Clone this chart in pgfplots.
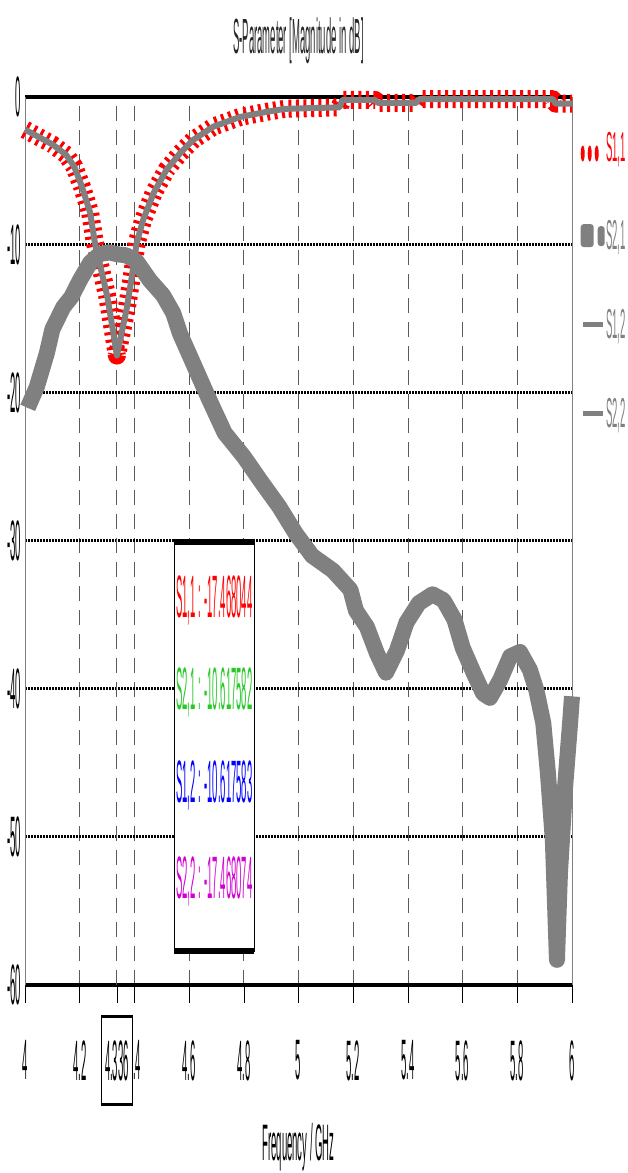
\documentclass[border=0pt]{standalone}
\usepackage{pgfplots}
\pgfplotsset{compat=1.18}
\usepackage{graphicx}
\usepackage{fontspec}
\setmainfont{Liberation Sans}
\definecolor{cgray}{RGB}{128,128,128}
\definecolor{cgrid}{RGB}{90,90,90}
\definecolor{cgreen}{RGB}{40,200,40}
\definecolor{cmag}{RGB}{210,0,210}
\newcommand{\st}[2][6]{\scalebox{1}[#1]{#2}}
\newcommand{\fourbox}{\vbox{\hrule height 3pt\kern 22pt\hbox{\kern4pt\st{4.336}\kern4pt}\kern 22pt\hrule height 3pt}}

\pgfplotstableread{
x y
4.000 -2.2
4.050 -2.7
4.100 -3.2
4.150 -3.9
4.180 -4.7
4.207 -6.0
4.238 -7.8
4.256 -9.9
4.280 -11.8
4.300 -13.4
4.320 -15.6
4.336 -17.47
4.355 -15.8
4.372 -14.3
4.390 -12.2
4.408 -9.9
4.432 -8.3
4.470 -6.5
4.518 -4.9
4.567 -3.8
4.615 -2.9
4.689 -2.0
4.786 -1.35
4.884 -1.0
4.950 -0.8
5.150 -0.7
5.160 -0.2
5.280 -0.2
5.290 -0.4
5.430 -0.4
5.440 -0.15
5.930 -0.15
5.940 -0.45
6.000 -0.45
}\sOneOne

\pgfplotstableread{
x y
4.010 -21.0
4.043 -19.6
4.080 -17.3
4.100 -15.7
4.140 -14.2
4.170 -13.5
4.200 -12.4
4.238 -11.2
4.274 -10.6
4.310 -10.5
4.336 -10.62
4.370 -10.7
4.408 -11.1
4.457 -12.4
4.505 -13.4
4.542 -14.6
4.567 -16.0
4.615 -18.0
4.670 -20.3
4.730 -22.7
4.800 -24.3
4.860 -25.9
4.930 -27.7
4.990 -29.5
5.050 -31.0
5.126 -32.0
5.190 -33.3
5.210 -34.7
5.250 -35.8
5.287 -37.6
5.320 -38.9
5.360 -37.4
5.395 -35.5
5.440 -34.2
5.490 -33.6
5.530 -34.0
5.570 -35.3
5.600 -37.2
5.640 -38.9
5.675 -40.3
5.700 -40.6
5.737 -39.4
5.774 -37.8
5.810 -37.5
5.846 -38.7
5.870 -40.1
5.895 -42.3
5.912 -45.7
5.930 -50.2
5.945 -58.3
5.956 -52.4
5.974 -46.8
5.993 -42.3
6.000 -40.5
}\sTwoOne

\begin{document}
\fontsize{9.5}{11}\selectfont
\begin{tikzpicture}
\useasboundingbox (0,0) rectangle (627pt,1173pt);
\begin{axis}[
  at={(25pt,188pt)}, anchor=south west,
  scale only axis, width=547pt, height=888pt,
  xmin=4, xmax=6, ymin=-60, ymax=0,
  clip=false,
  separate axis lines,
  x axis line style={black, line width=4pt},
  y axis line style={cgray, line width=1pt},
  xtick={4,4.2,4.4,4.6,4.8,5,5.2,5.4,5.6,5.8,6},
  xticklabels={\st{4},\st{4.2},\st{4.4},\st{4.6},\st{4.8},\st{5},\st{5.2},\st{5.4},\st{5.6},\st{5.8},\st{6}},
  ytick={0,-10,-20,-30,-40,-50,-60},
  yticklabels={\st{0},\st{-10},\st{-20},\st{-30},\st{-40},\st{-50},\st{-60}},
  xtick pos=bottom, ytick pos=left,
  tick align=outside,
  major tick length=18pt,
  xtick style={black, line width=0.6pt},
  ytick style={draw=none},
  xticklabel style={inner sep=0pt, anchor=north, yshift=-37pt},
  yticklabel style={inner sep=0pt, anchor=east, xshift=14pt},
  xmajorgrids, ymajorgrids,
  x grid style={cgrid, line width=0.8pt, dash pattern=on 15pt off 9pt},
  y grid style={black, line width=3pt, dash pattern=on 1.5pt off 1.5pt},
  extra x ticks={4.336},
  extra x tick labels={\fourbox},
  extra x tick style={
    grid=major,
    major grid style={black, solid, line width=0.8pt},
    xticklabel style={fill=white, draw=black, line width=0.8pt,
      inner sep=0pt, yshift=25pt},
  },
  title={\st[5.2]{S-Parameter [Magnitude in dB]}},
  title style={at={(0.5,1)}, anchor=south, inner sep=0pt, yshift=27pt, text=black!85},
  xlabel={\st[5.4]{Frequency / GHz}},
  xlabel style={at={(axis description cs:0.5,0)}, anchor=north, inner sep=0pt, yshift=-138pt},
  legend style={at={(1,1)}, anchor=north west, xshift=8pt, yshift=-35pt,
    draw=none, fill=none, inner sep=0pt, row sep=58pt, column sep=1pt,
    nodes={inner sep=0pt}},
  legend cell align=left,
]
\addplot[red, line width=18pt, line join=round, dash pattern=on 3pt off 4.5pt,
  legend image code/.code={
    \fill[red, draw=none] (2pt,-6pt) ellipse (2pt and 8pt);
    \fill[red, draw=none] (9pt,-6pt) ellipse (2pt and 8pt);
    \fill[red, draw=none] (16pt,-6pt) ellipse (2pt and 8pt);}
  ] table {\sOneOne};
\addlegendentry{\textcolor{red}{\st[4.4]{S1,1}}}

\addplot[cgray, line width=16pt, line join=round,
  legend image code/.code={
    \fill[cgray, draw=none, rounded corners=3pt] (0pt,-11pt) rectangle (13pt,12pt);
    \fill[cgray, draw=none, rounded corners=3pt] (17pt,-10pt) rectangle (24pt,10pt);}
  ] table {\sTwoOne};
\addlegendentry{\textcolor{cgray}{\st[4.4]{S2,1}}}

\addplot[cgray, line width=3pt, line join=round,
  legend image code/.code={\draw[cgray, line width=5pt] (2pt,0pt) -- (22pt,0pt);}
  ] table {\sTwoOne};
\addlegendentry{\textcolor{cgray}{\st[4.4]{S1,2}}}

\addplot[cgray, line width=6pt, line join=round,
  legend image code/.code={\draw[cgray, line width=5pt] (2pt,0pt) -- (22pt,0pt);}
  ] table {\sOneOne};
\addlegendentry{\textcolor{cgray}{\st[4.4]{S2,2}}}

% marker box
\fill[white] (axis cs:4.545,-30) rectangle (axis cs:4.838,-57.8);
\draw[black, line width=1pt] (axis cs:4.545,-30) -- (axis cs:4.545,-57.8);
\draw[black, line width=1pt] (axis cs:4.838,-30) -- (axis cs:4.838,-57.8);
\draw[black, line width=6pt] (axis cs:4.545,-30.1) -- (axis cs:4.838,-30.1);
\draw[black, line width=6pt] (axis cs:4.545,-57.7) -- (axis cs:4.838,-57.7);
\node[inner sep=0pt] at (axis cs:4.692,-34.0) {\textcolor{red}{\st[6.3]{S1,1 : -17.468044}}};
\node[inner sep=0pt] at (axis cs:4.692,-40.2) {\textcolor{cgreen}{\st[6.3]{S2,1 : -10.617582}}};
\node[inner sep=0pt] at (axis cs:4.692,-46.5) {\textcolor{blue}{\st[6.3]{S1,2 : -10.617583}}};
\node[inner sep=0pt] at (axis cs:4.692,-53.0) {\textcolor{cmag}{\st[6.3]{S2,2 : -17.468074}}};
\end{axis}
\end{tikzpicture}
\end{document}
